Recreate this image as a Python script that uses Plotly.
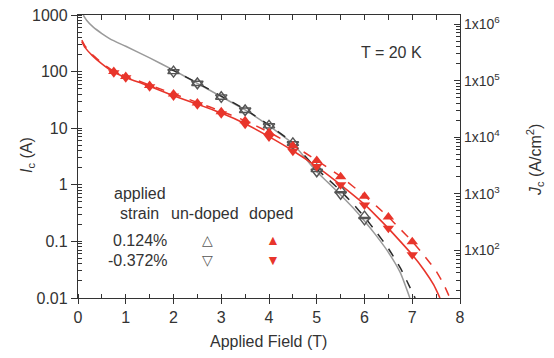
import plotly.graph_objects as go
import numpy as np

# ---------------- data ----------------
# un-doped fitted curves
field_ud_solid = [0.11, 0.18, 0.32, 0.5, 0.67, 1.0, 1.5, 2.0, 2.5, 3.0, 3.5, 4.0, 4.5, 5.0, 5.25, 5.5, 5.75, 6.0, 6.25, 6.5, 6.75, 6.95]
ic_ud_solid = [1000, 810, 610, 470, 380, 280, 175, 106, 62, 36, 21, 11, 5.3, 1.7, 1.07, 0.66, 0.4, 0.23, 0.125, 0.064, 0.028, 0.01]
field_ud_dash = [1.9, 2.0, 2.5, 3.0, 3.5, 4.0, 4.5, 5.0, 5.25, 5.5, 5.75, 6.0, 6.25, 6.5, 6.75, 6.9, 7.06]
ic_ud_dash = [112, 104, 63, 37, 21.5, 11.3, 5.5, 1.9, 1.23, 0.78, 0.47, 0.27, 0.145, 0.075, 0.034, 0.019, 0.01]

# un-doped measured points
field_ud_pts = [2.0, 2.5, 3.0, 3.5, 4.0, 4.5, 5.0, 5.5, 6.0]
ic_ud_tens = [102, 63, 36, 21, 11.2, 5.5, 1.9, 0.8, 0.28]
ic_ud_comp = [98, 61, 35, 20.5, 10.8, 5.2, 1.7, 0.68, 0.24]

# doped fitted curves
field_d_dash = [0.08, 0.15, 0.3, 0.5, 0.75, 1.0, 1.5, 2.0, 2.5, 3.0, 3.5, 4.0, 4.5, 5.0, 5.5, 6.0, 6.25, 6.5, 6.75, 7.0, 7.25, 7.5, 7.65, 7.79]
ic_d_dash = [360, 280, 200, 142, 102, 83, 58, 40.5, 28.5, 20, 13.5, 8.5, 5.0, 2.7, 1.4, 0.64, 0.42, 0.27, 0.165, 0.1, 0.056, 0.03, 0.018, 0.01]
field_d_solid = [0.08, 0.15, 0.3, 0.5, 0.75, 1.0, 1.5, 2.0, 2.5, 3.0, 3.5, 4.0, 4.5, 5.0, 5.5, 6.0, 6.25, 6.5, 6.75, 7.0, 7.25, 7.45, 7.58]
ic_d_solid = [340, 265, 192, 137, 97, 79, 55, 37.5, 26.5, 18.5, 12, 7.1, 4.0, 2.1, 1.0, 0.45, 0.28, 0.17, 0.1, 0.058, 0.031, 0.017, 0.01]

# doped measured points
field_d_pts = [0.75, 1.0, 1.5, 2.0, 2.5, 3.0, 3.5, 4.0, 4.5, 5.0, 5.5, 6.0, 6.5, 7.0]
ic_d_tens = [100, 82, 57, 40, 28, 19.5, 13.5, 8.4, 4.9, 2.7, 1.39, 0.63, 0.27, 0.099]
ic_d_comp = [95, 78, 54, 37, 26, 18, 11.8, 7.0, 3.9, 2.1, 1.0, 0.44, 0.17, 0.058]

# axis ticks
ic_tickvals = [0.01, 0.1, 1, 10, 100, 1000]
ic_ticktext = ["0.01", "0.1", "1", "10", "100", "1000"]
jc_tickvals = [1e2, 1e3, 1e4, 1e5, 1e6]
jc_ticktext = ["1x10<sup>2</sup>", "1x10<sup>3</sup>", "1x10<sup>4</sup>", "1x10<sup>5</sup>", "1x10<sup>6</sup>"]
jc_per_ic = 1445.0  # Jc / Ic conversion

# ---------------- style ----------------
RED = "#e8352b"
GRAY = "#9a9a9a"
DARK = "#2a2a2a"
AX = "#333333"
FONT = "Liberation Sans, Arial, sans-serif"

W, H = 554, 358
L, R, T, B = 78, 94, 15, 60
pw, ph = W - L - R, H - T - B


def px(x):
    return (x - L) / pw


def py(y):
    return (H - B - y) / ph


fig = go.Figure()

fig.add_trace(go.Scatter(x=field_ud_solid, y=ic_ud_solid, mode="lines",
                         line=dict(color=GRAY, width=1.5, shape="spline", smoothing=0.5)))
fig.add_trace(go.Scatter(x=field_ud_dash, y=ic_ud_dash, mode="lines",
                         line=dict(color=DARK, width=1.5, dash="dash", shape="spline", smoothing=0.5)))
fig.add_trace(go.Scatter(x=field_d_solid, y=ic_d_solid, mode="lines",
                         line=dict(color=RED, width=1.6, shape="spline", smoothing=0.5)))
fig.add_trace(go.Scatter(x=field_d_dash, y=ic_d_dash, mode="lines",
                         line=dict(color=RED, width=1.5, dash="dash", shape="spline", smoothing=0.5)))

fig.add_trace(go.Scatter(x=field_ud_pts, y=ic_ud_tens, mode="markers",
                         marker=dict(symbol="triangle-up-open", size=10, color="#555555",
                                     line=dict(width=1.4, color="#555555"))))
fig.add_trace(go.Scatter(x=field_ud_pts, y=ic_ud_comp, mode="markers",
                         marker=dict(symbol="triangle-down-open", size=10, color="#555555",
                                     line=dict(width=1.4, color="#555555"))))
fig.add_trace(go.Scatter(x=field_d_pts, y=ic_d_tens, mode="markers",
                         marker=dict(symbol="triangle-up", size=10, color=RED, line=dict(width=0))))
fig.add_trace(go.Scatter(x=field_d_pts, y=ic_d_comp, mode="markers",
                         marker=dict(symbol="triangle-down", size=10, color=RED, line=dict(width=0))))

# helper traces so the top and right axes are drawn
fig.add_trace(go.Scatter(x=[0, 8], y=[1, 1], xaxis="x2", yaxis="y", mode="lines",
                         line=dict(width=0), hoverinfo="skip", opacity=0))
fig.add_trace(go.Scatter(x=[0, 8], y=[jc_per_ic, jc_per_ic], xaxis="x", yaxis="y2", mode="lines",
                         line=dict(width=0), hoverinfo="skip", opacity=0))

tickfont = dict(family=FONT, size=16, color=AX)

fig.update_layout(
    width=W, height=H,
    margin=dict(l=L, r=R, t=T, b=B, autoexpand=False),
    paper_bgcolor="white", plot_bgcolor="white",
    showlegend=False,
    font=dict(family=FONT, color=AX),
    xaxis=dict(range=[0, 8], tickvals=list(range(9)), ticks="outside", ticklen=5, tickwidth=1.3,
               tickcolor=AX, showline=True, linecolor=AX, linewidth=1.3, showgrid=False,
               zeroline=False, tickfont=tickfont, automargin=False,
               minor=dict(ticks="inside", ticklen=4, tickwidth=1.2, tickcolor=AX, dtick=0.5)),
    xaxis2=dict(range=[0, 8], overlaying="x", side="top", dtick=0.5, ticks="inside", ticklen=5,
                tickwidth=1.2, tickcolor=AX, showticklabels=False, showline=True, linecolor=AX,
                linewidth=1.3, showgrid=False, zeroline=False, automargin=False),
    yaxis=dict(type="log", range=[-2, 3], tickvals=ic_tickvals, ticktext=ic_ticktext,
               ticks="outside", ticklen=6, tickwidth=1.3, tickcolor=AX, showline=True,
               linecolor=AX, linewidth=1.3, showgrid=False, zeroline=False, tickfont=tickfont,
               automargin=False,
               minor=dict(ticks="inside", ticklen=4, tickwidth=1, tickcolor=AX, dtick="D1", showgrid=False)),
    yaxis2=dict(type="log", overlaying="y", side="right",
                range=[np.log10(0.01 * jc_per_ic), np.log10(1000 * jc_per_ic)],
                tickvals=jc_tickvals, ticktext=jc_ticktext, ticks="inside", ticklen=6,
                tickwidth=1.3, tickcolor=AX, showline=True, linecolor=AX, linewidth=1.3,
                showgrid=False, zeroline=False, automargin=False,
                tickfont=dict(family=FONT, size=14, color=AX),
                minor=dict(ticks="inside", ticklen=4, tickwidth=1, tickcolor=AX, dtick="D1", showgrid=False)),
)

ann = []


def add_text(text, x, y, size=16, color=AX, angle=0, xanchor="center"):
    ann.append(dict(text=text, x=px(x), y=py(y), xref="paper", yref="paper", showarrow=False,
                    font=dict(family=FONT, size=size, color=color), textangle=angle,
                    xanchor=xanchor, yanchor="middle"))


add_text("Applied Field (T)", 268, 341)
add_text("<i>I</i><sub>c</sub> (A)", 27, 155, angle=-90)
add_text("<i>J</i><sub>c</sub> (A/cm<sup>2</sup>)", 535, 160, angle=-90)
add_text("T = 20 K", 391, 52)
add_text("applied", 140, 193)
add_text("strain", 139, 213)
add_text("un-doped", 205, 213)
add_text("doped", 271, 213)
add_text("0.124%", 140, 240)
add_text("-0.372%", 138, 260)
add_text("\u25B3", 207, 240, size=14, color="#555555")
add_text("\u25BD", 207, 260, size=14, color="#555555")
add_text("\u25B2", 273, 240, size=14, color=RED)
add_text("\u25BC", 273, 260, size=14, color=RED)
fig.update_layout(annotations=ann)

fig.write_html("out.html", config={"displayModeBar": False},
               post_script="document.body.style.margin='0px';document.body.style.padding='0px';")
